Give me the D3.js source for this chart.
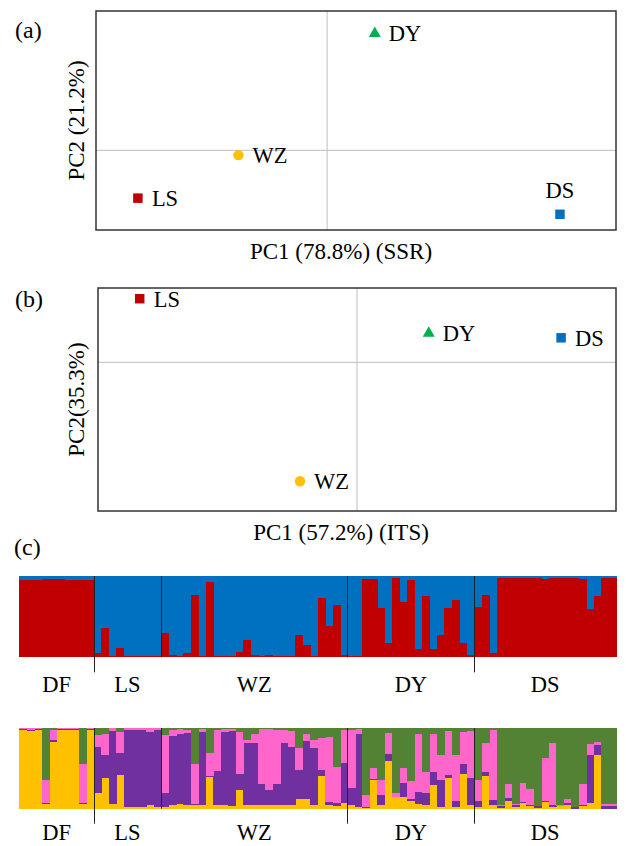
<!DOCTYPE html>
<meta charset="utf-8">
<script src="https://d3js.org/d3.v7.min.js"></script>
<style>
  body { margin: 0; background: #fff; }
  text { font-family: "Liberation Serif", "Times New Roman", serif; fill: #000; }
</style>
<div id="fig"></div>
<script>
// ---- PCA data (population coordinates) ----
const popNames = ["LS", "WZ", "DY", "DS"];
const popColors = ["#C00000", "#FFC000", "#00B050", "#0070C0"];
const popShapes = ["square", "circle", "triangle", "square"];
const ssrPC1 = [-0.655, -0.307, 0.165, 0.806];
const ssrPC2 = [-0.240, -0.024, 0.587, -0.321];
const itsPC1 = [-0.839, -0.220, 0.277, 0.788];
const itsPC2 = [0.428, -0.800, 0.196, 0.165];
const ssrLabelSide = ["right", "right", "right", "above"];
const itsLabelSide = ["right", "right", "right", "right"];

// ---- STRUCTURE data (one value per individual) ----
const groups = ["DF", "LS", "WZ", "DY", "DS"];
const groupSizes = [10, 9, 25, 17, 19];
const k2Red = [
  .95,.95,.95,.96,.96,.96,.95,.95,.95,.95,
  .05,.36,.02,.12,.01,.01,.01,.01,.01,
  .30,.03,.01,.05,.77,.01,.93,.02,.01,.01,.07,.21,.03,.01,.03,.01,.02,.01,.28,.15,.01,.73,.38,.64,.03,
  .02,.02,.96,.96,.61,.17,.97,.68,.95,.10,.75,.10,.27,.61,.71,.17,.03,
  .62,.77,.05,.98,.98,.98,.98,.97,.98,.96,.97,.98,.97,.98,.96,.60,.76,.98,.98
];
const k4Yellow = [
  .97,.96,.97,.06,.83,.97,.97,.97,.06,.97,
  .19,.38,.06,.42,.02,.02,.02,.04,.02,
  .02,.04,.06,.04,.04,.05,.39,.05,.04,.03,.23,.05,.05,.04,.04,.04,.05,.05,.12,.12,.05,.40,.04,.03,.07,
  .04,.02,.01,.36,.04,.59,.14,.15,.09,.06,.05,.29,.02,.38,.02,.43,.04,
  .02,.41,.04,.01,.10,.02,.07,.03,.01,.08,.02,.03,.04,0,.03,.07,.67,0,0
];
const k4Purple = [
  .015,.02,.015,.01,.02,.015,.015,.015,.01,.015,
  .58,.29,.90,.27,.95,.95,.95,.91,.95,
  .17,.86,.87,.90,.02,.90,.02,.42,.91,.93,.20,.77,.77,.27,.19,.27,.76,.71,.36,.72,.70,.08,.04,.04,.50,
  .22,.91,.01,.01,.13,.09,.01,.17,.03,.15,.15,.17,.33,.04,.07,.12,.34,
  .08,.04,.07,.02,.03,.02,.01,.01,.02,.01,.03,0,.03,.02,.02,.59,.12,.03,.03
];
const k4Pink = [
  .015,.02,.015,.29,.12,.015,.015,.015,.48,.015,
  .14,.26,.04,.26,.03,.03,.03,.05,.03,
  .72,.08,.06,.03,.49,.04,.28,.50,.04,.03,.52,.03,.10,.68,.76,.66,.17,.20,.27,.09,.10,.40,.81,.45,.41,
  .72,.06,.15,.13,.18,.26,.05,.18,.22,.71,.25,.47,.32,.54,.58,.40,.58,
  .26,.37,.86,.01,.17,.02,.24,.20,0,.54,.76,.02,.05,0,.25,.14,.04,.03,.03
];
const k4Green = [
  0,0,0,.64,.03,0,0,0,.45,0,
  .09,.07,0,.05,0,0,0,0,0,
  .09,.02,.01,.03,.45,.01,.31,.03,.01,.01,.05,.15,.08,.01,.01,.03,.02,.04,.25,.07,.15,.12,.11,.48,.02,
  .02,.01,.83,.50,.65,.06,.80,.50,.66,.08,.55,.07,.33,.04,.33,.05,.04,
  .64,.18,.03,.96,.70,.94,.68,.76,.97,.37,.19,.95,.88,.98,.70,.20,.17,.94,.94
];

const svg = d3.select("#fig").append("svg")
  .attr("width", 626).attr("height", 846);

// ---------- PCA panels ----------
const panels = [
  {tag: "(a)", tagY: 38, pc1: ssrPC1, pc2: ssrPC2, xDom: [-0.8, 1.0], yDom: [-0.4, 0.7],
   box: {l: 96, r: 616, t: 11, b: 230}, xTitle: "PC1 (78.8%) (SSR)", yTitle: "PC2 (21.2%)",
   sides: ssrLabelSide},
  {tag: "(b)", tagY: 307, pc1: itsPC1, pc2: itsPC2, xDom: [-1, 1], yDom: [-1, 0.5],
   box: {l: 98, r: 616, t: 288, b: 511}, xTitle: "PC1 (57.2%) (ITS)", yTitle: "PC2(35.3%)",
   sides: itsLabelSide}
];

const symbolType = {square: d3.symbolSquare, circle: d3.symbolCircle, triangle: d3.symbolTriangle};
const symbolSize = {square: 90, circle: 85, triangle: 62};

panels.forEach(p => {
  const x = d3.scaleLinear().domain(p.xDom).range([p.box.l, p.box.r]);
  const y = d3.scaleLinear().domain(p.yDom).range([p.box.b, p.box.t]);
  const g = svg.append("g");

  // zero lines
  g.append("line").attr("x1", x(0)).attr("x2", x(0)).attr("y1", p.box.t).attr("y2", p.box.b)
    .attr("stroke", "#bfbfbf").attr("stroke-width", 1);
  g.append("line").attr("x1", p.box.l).attr("x2", p.box.r).attr("y1", y(0)).attr("y2", y(0))
    .attr("stroke", "#bfbfbf").attr("stroke-width", 1);

  // frame
  g.append("rect").attr("x", p.box.l).attr("y", p.box.t)
    .attr("width", p.box.r - p.box.l).attr("height", p.box.b - p.box.t)
    .attr("fill", "none").attr("stroke", "#333").attr("stroke-width", 1.5);

  const pts = popNames.map((n, i) => ({name: n, x: p.pc1[i], y: p.pc2[i],
    color: popColors[i], shape: popShapes[i], side: p.sides[i]}));

  g.selectAll("path.pt").data(pts).join("path")
    .attr("class", "pt")
    .attr("transform", d => `translate(${x(d.x)},${y(d.y)})`)
    .attr("d", d => d3.symbol().type(symbolType[d.shape]).size(symbolSize[d.shape])())
    .attr("fill", d => d.color);

  g.selectAll("text.lab").data(pts).join("text")
    .attr("class", "lab")
    .attr("x", d => d.side === "above" ? x(d.x) : x(d.x) + 14)
    .attr("y", d => d.side === "above" ? y(d.y) - 16 : y(d.y) + 8)
    .attr("text-anchor", d => d.side === "above" ? "middle" : "start")
    .style("font-size", "22.5px")
    .text(d => d.name);

  g.append("text").attr("x", 15).attr("y", p.tagY)
    .style("font-size", "24px").text(p.tag);

  g.append("text").attr("x", 341).attr("y", p.box.b + 29)
    .attr("text-anchor", "middle").style("font-size", "23px").text(p.xTitle);

  g.append("text")
    .attr("transform", `translate(${84},${(p.box.t + p.box.b) / 2}) rotate(-90)`)
    .attr("text-anchor", "middle").style("font-size", "23px").text(p.yTitle);
});

// ---------- STRUCTURE bar plots ----------
svg.append("text").attr("x", 14).attr("y", 555).style("font-size", "24px").text("(c)");

const n = k2Red.length;
const xb = d3.scaleBand().domain(d3.range(n)).range([19.3, 616]).padding(0);
const bounds = Array.from(d3.cumsum(groupSizes));
const starts = [0, ...bounds.slice(0, -1)];

function groupLayer(top, bottom, labelY, tickBelow) {
  const g = svg.append("g");
  bounds.slice(0, -1).forEach((b, i) => {
    const xx = Math.round(xb(b)) + 0.5;
    const ext = tickBelow.includes(groups[i + 1]);
    g.append("line").attr("x1", xx).attr("x2", xx)
      .attr("y1", top).attr("y2", ext ? bottom + 15 : bottom)
      .attr("stroke", "#222").attr("stroke-width", 1);
  });
  g.selectAll("text").data(groups).join("text")
    .attr("x", (d, i) => (xb(starts[i]) + (bounds[i] < n ? xb(bounds[i]) : 616)) / 2)
    .attr("y", labelY)
    .attr("text-anchor", "middle").style("font-size", "22.5px")
    .text(d => d);
}

// K = 2
const y2 = d3.scaleLinear().domain([0, 1]).range([657.3, 576]);
const gk2 = svg.append("g").attr("shape-rendering", "crispEdges");
gk2.selectAll("rect.b").data(k2Red).join("rect").attr("class", "b")
  .attr("x", (d, i) => xb(i)).attr("width", xb.bandwidth() + 0.6)
  .attr("y", y2(1)).attr("height", y2(0) - y2(1)).attr("fill", "#0070C0");
gk2.selectAll("rect.r").data(k2Red).join("rect").attr("class", "r")
  .attr("x", (d, i) => xb(i)).attr("width", xb.bandwidth() + 0.6)
  .attr("y", d => y2(d)).attr("height", d => y2(0) - y2(d)).attr("fill", "#C00000");
groupLayer(576, 657.3, 692, ["LS", "DS"]);

// K = 4
const k4Keys = ["yellow", "purple", "pink", "green"];
const k4Colors = {yellow: "#FFC000", purple: "#7030A0", pink: "#FF66CC", green: "#548235"};
const k4Rows = d3.range(n).map(i => ({i: i, yellow: k4Yellow[i], purple: k4Purple[i],
  pink: k4Pink[i], green: k4Green[i]}));
const stacked = d3.stack().keys(k4Keys).offset(d3.stackOffsetExpand)(k4Rows);
const y4 = d3.scaleLinear().domain([0, 1]).range([808.7, 728]);
svg.append("g").attr("shape-rendering", "crispEdges")
  .selectAll("g").data(stacked).join("g")
  .attr("fill", d => k4Colors[d.key])
  .selectAll("rect").data(d => d).join("rect")
    .attr("x", d => xb(d.data.i)).attr("width", xb.bandwidth() + 0.6)
    .attr("y", d => y4(d[1])).attr("height", d => y4(d[0]) - y4(d[1]));
groupLayer(728, 808.7, 840, ["LS", "DY", "DS"]);
</script>
